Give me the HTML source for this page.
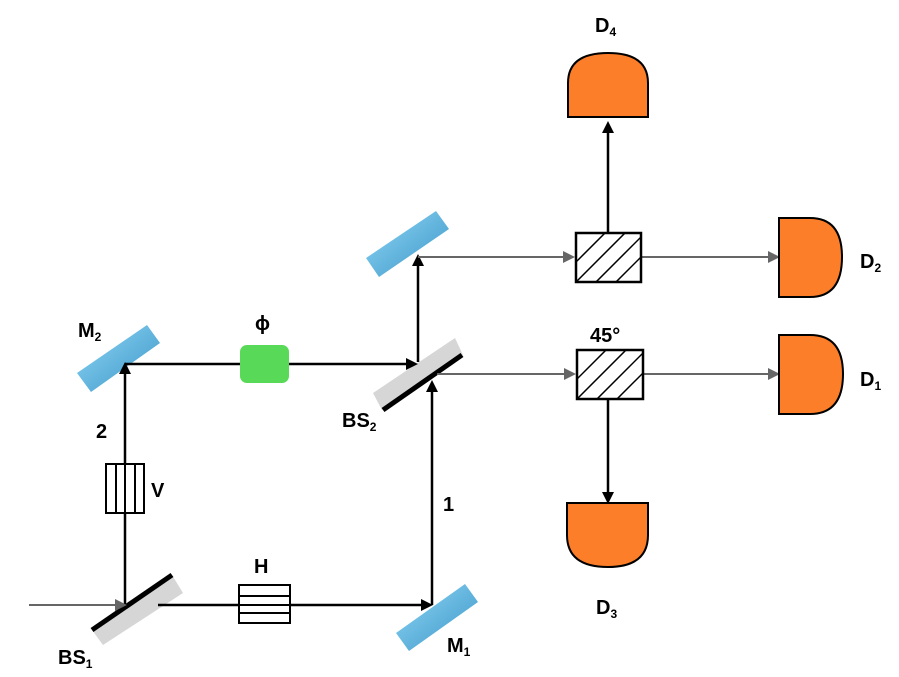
<!DOCTYPE html>
<html><head><meta charset="utf-8"><style>
html,body{margin:0;padding:0;background:#fff;}
svg{display:block;}
text{font-family:"Liberation Sans",sans-serif;font-weight:bold;fill:#000;}
</style></head><body>
<svg width="899" height="677" viewBox="0 0 899 677" xmlns="http://www.w3.org/2000/svg">
<defs>
<linearGradient id="mg" x1="0" y1="0" x2="1" y2="1">
<stop offset="0" stop-color="#8fd6f7"/><stop offset="1" stop-color="#3b96c6"/>
</linearGradient>
<clipPath id="c1"><rect x="576" y="233" width="65" height="49"/></clipPath>
<clipPath id="c2"><rect x="577" y="350" width="66" height="49"/></clipPath>
</defs>

<polygon points="77,373 147,325 160,343 91,392" fill="url(#mg)"/>
<polygon points="396,633 465,584 478,602 409,651" fill="url(#mg)"/>
<polygon points="366,258 436,211 449,229 379,277" fill="url(#mg)"/>

<polygon points="92,630 172,575 183,593 103,645" fill="#d6d6d6"/>
<line x1="92" y1="630" x2="172" y2="575" stroke="#000" stroke-width="5"/>
<polygon points="373,393 455,338 463,355 382,410" fill="#d6d6d6"/>
<line x1="383" y1="410" x2="462" y2="355" stroke="#000" stroke-width="5"/>

<g stroke="#000" stroke-width="2.5" fill="none">
<line x1="125" y1="605" x2="125" y2="372"/>
<line x1="125" y1="364" x2="408" y2="364"/>
<line x1="158" y1="605" x2="423" y2="605"/>
<line x1="432" y1="605" x2="432" y2="392"/>
<line x1="418" y1="362" x2="418" y2="266"/>
<line x1="608" y1="233" x2="608" y2="132"/>
<line x1="608" y1="399" x2="608" y2="493"/>
</g>
<g fill="#000">
<polygon points="125,362 119,374 131,374"/>
<polygon points="418,364 406,358 406,370"/>
<polygon points="433,605 421,599 421,611"/>
<polygon points="432,380 426,392 438,392"/>
<polygon points="418,254 412,266 424,266"/>
<polygon points="608,121 602,133 614,133"/>
<polygon points="608,504 602,492 614,492"/>
</g>
<g stroke="#666" stroke-width="2">
<line x1="29" y1="605" x2="116" y2="605"/>
<line x1="418" y1="257" x2="564" y2="257"/>
<line x1="641" y1="257" x2="769" y2="257"/>
<line x1="437" y1="374" x2="564" y2="374"/>
<line x1="643" y1="374" x2="769" y2="374"/>
</g>
<g fill="#666">
<polygon points="127,605 115,599 115,611"/>
<polygon points="575,257 563,251 563,263"/>
<polygon points="780,257 768,251 768,263"/>
<polygon points="576,374 564,368 564,380"/>
<polygon points="780,374 768,368 768,380"/>
</g>

<rect x="240" y="345" width="49" height="38" rx="7" fill="#58d957"/>

<g stroke="#000" stroke-width="2" fill="#fff">
<rect x="106" y="464" width="38" height="49"/>
<line x1="116" y1="464" x2="116" y2="513"/>
<line x1="125" y1="464" x2="125" y2="513"/>
<line x1="135" y1="464" x2="135" y2="513"/>
</g>
<g stroke="#000" stroke-width="2" fill="#fff">
<rect x="239" y="585" width="51" height="38"/>
<line x1="239" y1="596" x2="290" y2="596"/>
<line x1="239" y1="605" x2="290" y2="605"/>
<line x1="239" y1="613" x2="290" y2="613"/>
</g>

<rect x="576" y="233" width="65" height="49" fill="#fff"/>
<g clip-path="url(#c1)" stroke="#000" stroke-width="1.5">
<line x1="566" y1="272" x2="606" y2="232"/>
<line x1="566" y1="292" x2="626" y2="232"/>
<line x1="586" y1="292" x2="646" y2="232"/>
<line x1="606" y1="292" x2="666" y2="232"/>
</g>
<rect x="576" y="233" width="65" height="49" fill="none" stroke="#000" stroke-width="2.5"/>

<rect x="577" y="350" width="66" height="49" fill="#fff"/>
<g clip-path="url(#c2)" stroke="#000" stroke-width="1.5">
<line x1="567" y1="389" x2="607" y2="349"/>
<line x1="567" y1="409" x2="627" y2="349"/>
<line x1="587" y1="409" x2="647" y2="349"/>
<line x1="607" y1="409" x2="667" y2="349"/>
</g>
<rect x="577" y="350" width="66" height="49" fill="none" stroke="#000" stroke-width="2.5"/>

<g fill="#fd7e28" stroke="#000" stroke-width="2">
<path d="M568,117 L568,83 Q568,53 608,53 Q648,53 648,83 L648,117 Z"/>
<path d="M779,218 L810,218 Q842,218 842,257 Q842,297 810,297 L779,297 Z"/>
<path d="M779,335 L810,335 Q843,335 843,374 Q843,414 810,414 L779,414 Z"/>
<path d="M567,503 L648,503 L648,535 Q648,567 608,567 Q567,567 567,535 Z"/>
</g>

<g font-size="20">
<text x="595" y="32">D<tspan font-size="12" dy="4">4</tspan></text>
<text x="860" y="268">D<tspan font-size="12" dy="4">2</tspan></text>
<text x="860" y="386">D<tspan font-size="12" dy="4">1</tspan></text>
<text x="596" y="614">D<tspan font-size="12" dy="4">3</tspan></text>
<text x="590" y="342">45°</text>
<text x="255" y="330">ϕ</text>
<text x="78" y="337">M<tspan font-size="12" dy="4">2</tspan></text>
<text x="96" y="438">2</text>
<text x="151" y="497">V</text>
<text x="254" y="573">H</text>
<text x="443" y="511">1</text>
<text x="342" y="427">BS<tspan font-size="12" dy="4">2</tspan></text>
<text x="58" y="664">BS<tspan font-size="12" dy="4">1</tspan></text>
<text x="447" y="652">M<tspan font-size="12" dy="4">1</tspan></text>
</g>
</svg>
</body></html>
